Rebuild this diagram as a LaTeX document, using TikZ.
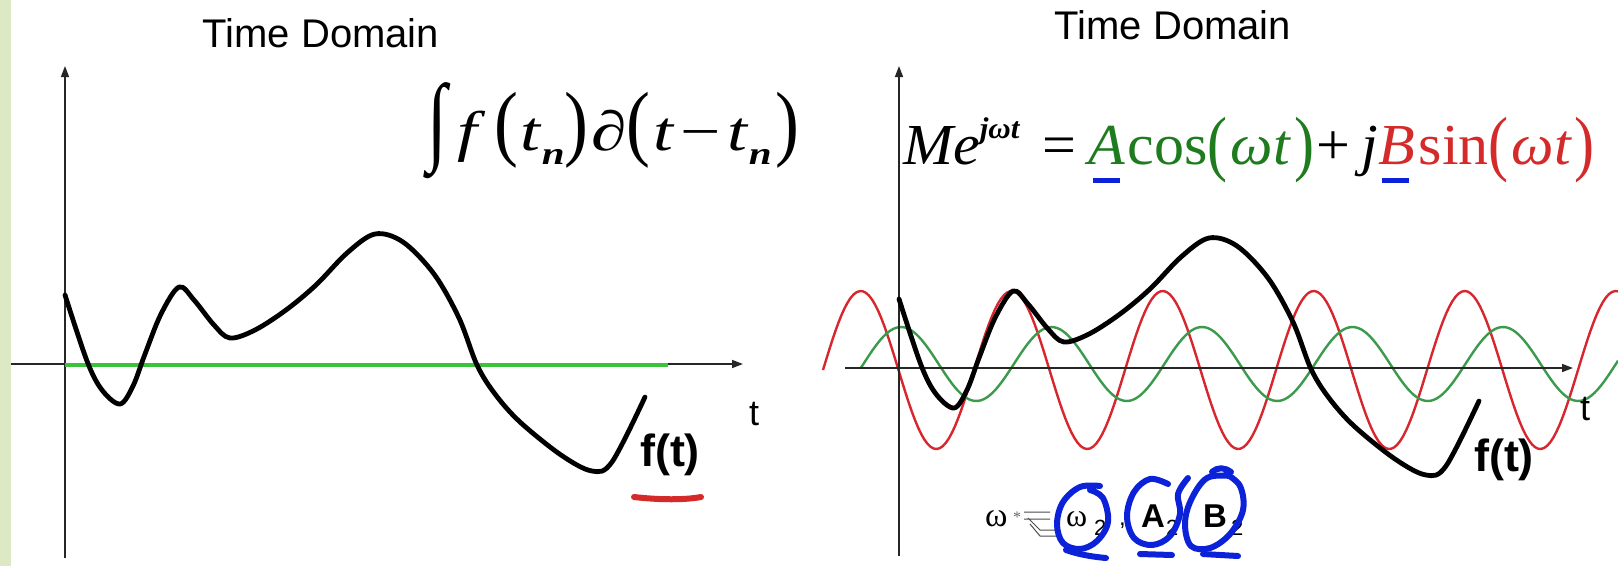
\documentclass[tikz,border=0pt]{standalone}
\usepackage{fontspec}
\setmainfont{Liberation Serif}
\newfontfamily\arial{Liberation Sans}
\usepackage{graphicx}
\usetikzlibrary{arrows.meta}
\definecolor{strip}{HTML}{DCE9C4}
\definecolor{fgreen}{HTML}{1E7B1E}
\definecolor{fred}{HTML}{D42A2A}
\definecolor{sgreen}{HTML}{3C9A4C}
\definecolor{sred}{HTML}{D8262E}
\definecolor{lgreen}{HTML}{3BC43B}
\definecolor{hblue}{HTML}{0B22D8}
\newcommand\bpl[1]{\scalebox{1}[1.5]{#1}}
\newcommand\bpr[1]{\raisebox{-3pt}{\scalebox{1}[1.25]{#1}}}
\newcommand\subn{\raisebox{-14pt}{\fontsize{32}{32}\selectfont\textit{\textbf{n}}}}
\newcommand\ulb[1]{\rlap{\hspace{4pt}\textcolor{hblue}{\rule[-19pt]{26pt}{5pt}}}#1}
\begin{document}
\begin{tikzpicture}[x=1pt,y=-1pt,
  axis/.style={line width=1.6pt, draw=black!85, -{Triangle[length=11pt,width=8pt]}},
  fcurve/.style={line width=4.8pt, black, line cap=round, line join=round},
  title/.style={font=\arial\fontsize{40}{44}\selectfont, anchor=base},
  tlab/.style={font=\arial\fontsize{36}{40}\selectfont, anchor=base},
  flab/.style={font=\arial\bfseries\fontsize{45}{48}\selectfont},
  hand/.style={line width=6pt, hblue, line cap=round, line join=round}
]
\useasboundingbox (0,0) rectangle (1618,566);
\fill[white] (0,0) rectangle (1618,566);
\fill[strip] (0,0) rectangle (11,566);

% ---------- left panel ----------
\node[title] (tl) at (321,47) {Time Domain};
\draw[axis] (65,558) -- (65,66);
\draw[axis] (11,364) -- (743,364);
\draw[lgreen, line width=4pt] (65,365) -- (668,365);
\draw[fcurve] plot[smooth, tension=0.55] coordinates {
 (65,295) (87,361) (102,390) (120,404) (133,386) (145,354) (161,314) (179,287)
 (194,300) (214,325) (230,338) (255,330) (286,310) (316,285) (347,253) (375,234)
 (403,242) (434,274) (459,318) (477,365) (495,394) (520,422) (561,455) (592,471)
 (612,462) (645,397)};
\node[tlab] (tt1) at (754,425) {t};
\node[flab] (ft1) at (670,455) {f(t)};
\draw[fred, line width=6pt, line cap=round] (634,497) .. controls (660,500) and (685,500) .. (701,497);
\node[anchor=base west, font=\fontsize{56}{60}\selectfont, inner sep=0pt] (intf) at (427,150)
 {\scalebox{1.28}[1]{\raisebox{-2pt}{\scalebox{1}[1.75]{∫}}\hspace{8pt}\textit{f}\hspace{7pt}\bpl{(}\hspace{2pt}\textit{t}\subn\bpl{)}\hspace{2pt}∂\bpl{(}\hspace{2pt}\textit{t}\hspace{5pt}−\hspace{5pt}\textit{t}\subn\hspace{3pt}\bpl{)}}};

% ---------- right panel ----------
\node[title] (tr) at (1173,39) {Time Domain};
\draw[sred, line width=2.4pt] plot[domain=823:1618, samples=260] (\x, {370-79*sin(2.38411*(\x-823))});
\draw[sgreen, line width=2.4pt] plot[domain=861:1618, samples=260] (\x, {364-37*cos(2.39203*(\x-901))});
\draw[axis] (899,556) -- (899,66);
\draw[axis] (845,368) -- (1573,368);
\draw[fcurve] plot[smooth, tension=0.55] coordinates {
 (899,299) (921,365) (936,394) (954,408) (967,390) (979,358) (995,318) (1013,291)
 (1028,304) (1048,329) (1064,342) (1089,334) (1120,314) (1150,289) (1181,257) (1209,238)
 (1237,246) (1268,278) (1293,322) (1311,369) (1329,398) (1354,426) (1395,459) (1426,475)
 (1446,466) (1479,401)};
\node[tlab] (tt2) at (1585,420) {t};
\node[flab] (ft2) at (1504,460) {f(t)};
\node[anchor=base west, font=\fontsize{58}{60}\selectfont, inner sep=0pt] (euler) at (903,164)
 {\scalebox{1.035}[1]{\textit{Me}\raisebox{26pt}{\fontsize{30}{30}\selectfont\bfseries\itshape jωt}\hspace{22pt}=\hspace{12pt}{\color{fgreen}\ulb{\textit{A}}\hspace{2pt}cos\bpr{(}\hspace{3pt}\textit{ωt}\hspace{3pt}\bpr{)}}\hspace{2pt}+\hspace{11pt}\textit{j}{\color{fred}\ulb{\textit{B}}\hspace{4pt}sin\bpr{(}\hspace{3pt}\textit{ωt}\hspace{2pt}\bpr{)}}}};

% ---------- bottom label ----------
\node[anchor=base west, font=\fontsize{34}{36}\selectfont, inner sep=0pt] (w1) at (985,526) {ω};
\node[anchor=base west, font=\fontsize{16}{18}\selectfont, inner sep=0pt, text=black!60] (star) at (1013,522) {*};
\draw[black!70, line width=1pt] (1024,512) -- (1050,512) (1024,519) -- (1050,519)
  (1030,524) -- (1040,536) -- (1058,536) -- (1058,530) -- (1040,530) -- (1028,518);
\node[anchor=base west, font=\fontsize{32}{34}\selectfont, inner sep=0pt] (w2) at (1066,526) {ω};
\node[anchor=base west, font=\arial\fontsize{22}{24}\selectfont, inner sep=0pt] (s1) at (1094,535) {2};
\node[anchor=base west, font=\arial\fontsize{24}{26}\selectfont, inner sep=0pt] (c1) at (1119,525) {,};
\node[anchor=base west, font=\arial\bfseries\fontsize{33}{34}\selectfont, inner sep=0pt] (a2) at (1141,527) {A};
\node[anchor=base west, font=\arial\fontsize{22}{24}\selectfont, inner sep=0pt] (s2) at (1166,535) {2};
\node[anchor=base west, font=\arial\bfseries\fontsize{33}{34}\selectfont, inner sep=0pt] (b2) at (1203,527) {B};
\node[anchor=base west, font=\arial\fontsize{22}{24}\selectfont, inner sep=0pt] (s3) at (1231,535) {2};
% handwriting
\draw[hand] plot[smooth, tension=0.6] coordinates {(1100,486) (1080,487) (1063,502) (1057,524) (1063,543) (1080,549) (1097,541) (1108,522) (1103,498) (1090,490)};
\draw[hand] (1066,550) .. controls (1080,555) and (1095,557) .. (1106,558);
\draw[hand] plot[smooth, tension=0.6] coordinates {(1168,484) (1150,479) (1134,492) (1127,516) (1134,538) (1152,545) (1170,536) (1180,514) (1178,494) (1188,478)};
\draw[hand] (1140,554) -- (1172,555);
\draw[hand] plot[smooth, tension=0.6] coordinates {(1230,476) (1207,478) (1191,500) (1185,524) (1191,546) (1210,548) (1230,534) (1243,510) (1240,486) (1226,474)};
\draw[hand] (1212,472) .. controls (1218,467) and (1224,467) .. (1231,472);
\draw[hand] (1203,554) -- (1238,556);
\end{tikzpicture}
\end{document}
